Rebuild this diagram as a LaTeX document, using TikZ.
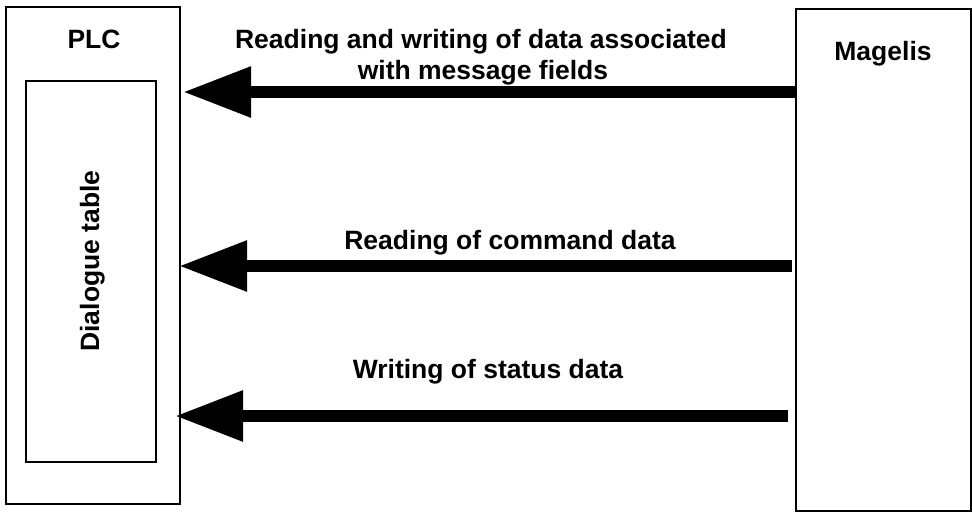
\documentclass[tikz,border=0pt]{standalone}
\usepackage{fontspec}
\setmainfont{Liberation Sans}
\usetikzlibrary{arrows.meta}
\tikzset{
  box/.style={draw=black, line width=2pt, inner sep=0pt, anchor=north west, fill=none},
  lbl/.style={font=\fontsize{26.5}{30.5}\selectfont\bfseries, inner sep=0pt, anchor=base},
  bigarrow/.style={line width=12pt, -{Triangle[length=68pt,width=48pt]}},
}
\begin{document}
\begin{tikzpicture}[x=1pt,y=-1pt]
\useasboundingbox[fill=white] (0,0) rectangle (972,512);
% boxes
\node[box, minimum width=174pt, minimum height=497pt] (plc) at (5,6) {};
\node[box, minimum width=130pt, minimum height=381pt] (tab) at (25,80) {};
\node[box, minimum width=175pt, minimum height=502pt] (mag) at (795,8) {};
% titles
\node[lbl] (plct) at (94,48) {PLC};
\node[lbl] (magt) at (883,60) {Magelis};
\node[lbl, rotate=90] (tabt) at (99,261) {Dialogue table};
% arrow end points
\coordinate (t1) at (183,92);
\coordinate (t2) at (179,266);
\coordinate (t3) at (175,416);
\coordinate (s1) at (795,92);
\coordinate (s2) at (792,266);
\coordinate (s3) at (788,416);
\draw[bigarrow] (s1) -- (t1);
\draw[bigarrow] (s2) -- (t2);
\draw[bigarrow] (s3) -- (t3);
% labels
\node[lbl] (l1a) at (481,48) {Reading and writing of data associated};
\node[lbl] (l1b) at (483,79) {with message fields};
\node[lbl] (l2) at (510,249) {Reading of command data};
\node[lbl] (l3) at (488,378) {Writing of status data};
\end{tikzpicture}
\end{document}
